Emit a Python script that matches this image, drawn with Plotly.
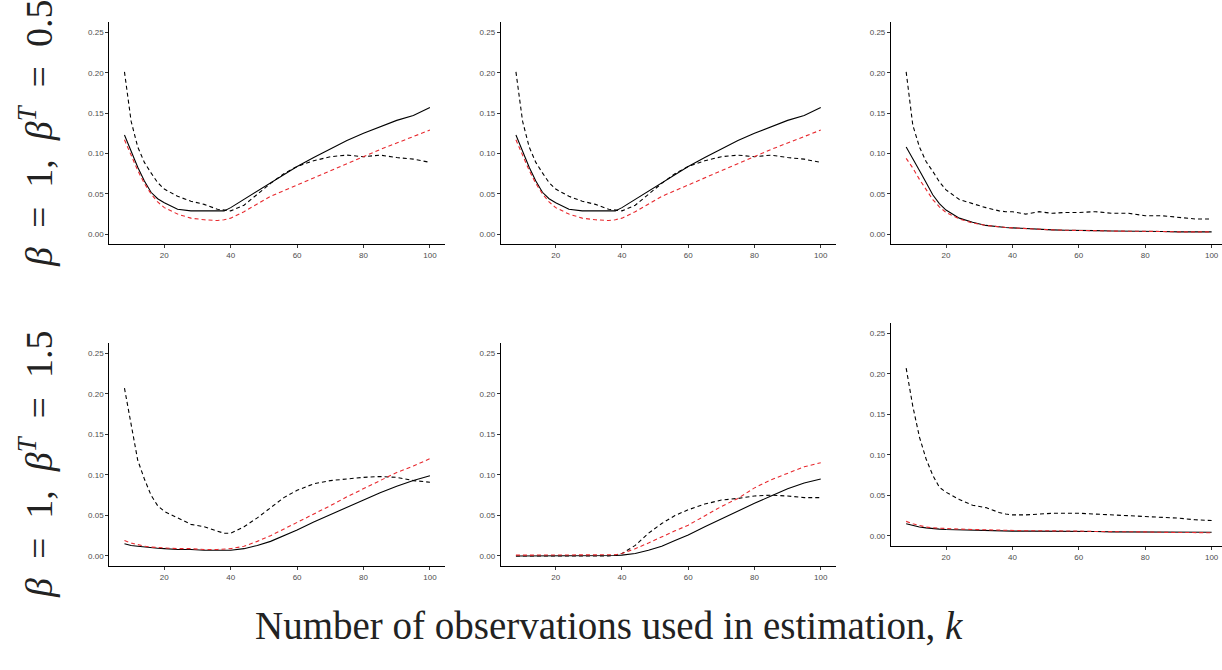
import plotly.graph_objects as go

W, H = 1222, 670

K = [8, 10, 12, 14, 16, 18, 20, 24, 28, 32, 36, 38, 40, 44, 48, 52, 56, 60, 65, 70, 75, 80, 85, 90, 95, 100]

# Row 1 (beta^T = 0.5), columns 1 and 2 (identical)
r1c1_solid = [0.123, 0.102, 0.083, 0.066, 0.052, 0.044, 0.039, 0.031, 0.029, 0.029, 0.029, 0.029, 0.033,
              0.043, 0.053, 0.063, 0.074, 0.084, 0.095, 0.106, 0.116, 0.125, 0.133, 0.141, 0.147, 0.157]
r1c1_dash = [0.201, 0.140, 0.108, 0.089, 0.076, 0.064, 0.056, 0.047, 0.041, 0.037, 0.031, 0.030, 0.029,
             0.036, 0.050, 0.063, 0.075, 0.084, 0.091, 0.096, 0.098, 0.096, 0.098, 0.095, 0.093, 0.089]
r1c1_red = [0.117, 0.098, 0.079, 0.063, 0.050, 0.040, 0.033, 0.025, 0.020, 0.018, 0.017, 0.018, 0.020,
            0.028, 0.038, 0.047, 0.054, 0.061, 0.070, 0.079, 0.088, 0.097, 0.105, 0.113, 0.121, 0.129]

r1c2_solid = list(r1c1_solid)
r1c2_dash = list(r1c1_dash)
r1c2_red = list(r1c1_red)

# Row 1, column 3
r1c3_solid = [0.108, 0.094, 0.079, 0.064, 0.049, 0.038, 0.030, 0.020, 0.015, 0.011, 0.009, 0.0085, 0.008,
              0.007, 0.006, 0.0055, 0.005, 0.005, 0.0045, 0.004, 0.004, 0.0035, 0.0035, 0.003, 0.003, 0.003]
r1c3_dash = [0.201, 0.135, 0.108, 0.090, 0.078, 0.065, 0.055, 0.043, 0.038, 0.033, 0.029, 0.028, 0.028,
             0.025, 0.028, 0.026, 0.027, 0.027, 0.028, 0.026, 0.026, 0.023, 0.023, 0.021, 0.019, 0.019]
r1c3_red = [0.094, 0.082, 0.068, 0.055, 0.043, 0.034, 0.027, 0.019, 0.014, 0.011, 0.009, 0.0085, 0.008,
            0.007, 0.006, 0.0055, 0.005, 0.005, 0.0045, 0.004, 0.004, 0.0035, 0.0035, 0.003, 0.003, 0.003]

# Row 2 (beta^T = 1.5), column 1
r2c1_solid = [0.015, 0.013, 0.012, 0.011, 0.010, 0.0095, 0.009, 0.008, 0.008, 0.007, 0.007, 0.007, 0.007,
              0.009, 0.013, 0.018, 0.025, 0.032, 0.042, 0.051, 0.060, 0.069, 0.078, 0.086, 0.093, 0.099]
r2c1_dash = [0.207, 0.160, 0.118, 0.095, 0.075, 0.062, 0.055, 0.047, 0.039, 0.036, 0.031, 0.028, 0.028,
             0.036, 0.047, 0.060, 0.072, 0.081, 0.089, 0.093, 0.095, 0.097, 0.098, 0.097, 0.093, 0.091]
r2c1_red = [0.019, 0.016, 0.014, 0.012, 0.011, 0.0105, 0.010, 0.009, 0.009, 0.008, 0.008, 0.0085, 0.009,
            0.012, 0.018, 0.025, 0.033, 0.041, 0.051, 0.062, 0.073, 0.083, 0.094, 0.103, 0.111, 0.120]

# Row 2, column 2
r2c2_solid = [0.0, 0.0, 0.0, 0.0, 0.0, 0.0, 0.0, 0.0, 0.0, 0.0, 0.0, 0.0005, 0.001,
              0.003, 0.007, 0.012, 0.019, 0.026, 0.036, 0.046, 0.056, 0.065, 0.074, 0.083, 0.090, 0.095]
r2c2_dash = [0.0, 0.0, 0.0, 0.0, 0.0, 0.0, 0.0, 0.0, 0.0, 0.0, 0.0, 0.001, 0.003,
             0.013, 0.028, 0.040, 0.050, 0.057, 0.064, 0.069, 0.071, 0.074, 0.075, 0.074, 0.072, 0.072]
r2c2_red = [0.001, 0.001, 0.001, 0.001, 0.001, 0.001, 0.001, 0.001, 0.001, 0.001, 0.001, 0.0015, 0.003,
            0.009, 0.016, 0.024, 0.031, 0.038, 0.050, 0.061, 0.071, 0.084, 0.094, 0.102, 0.110, 0.115]

# Row 2, column 3
r2c3_solid = [0.015, 0.013, 0.011, 0.010, 0.009, 0.0085, 0.008, 0.0075, 0.007, 0.007, 0.0065, 0.0065, 0.006,
              0.006, 0.006, 0.006, 0.006, 0.0055, 0.0055, 0.005, 0.005, 0.005, 0.0045, 0.0045, 0.0045, 0.0045]
r2c3_dash = [0.207, 0.160, 0.122, 0.095, 0.075, 0.060, 0.054, 0.045, 0.038, 0.035, 0.029, 0.027, 0.026,
             0.026, 0.027, 0.028, 0.028, 0.028, 0.027, 0.026, 0.025, 0.024, 0.023, 0.022, 0.020, 0.019]
r2c3_red = [0.018, 0.015, 0.013, 0.011, 0.010, 0.0095, 0.009, 0.0085, 0.008, 0.0075, 0.007, 0.007, 0.007,
            0.0065, 0.0065, 0.0065, 0.006, 0.006, 0.0055, 0.0055, 0.005, 0.005, 0.0045, 0.0045, 0.004, 0.004]

X_TICKS = [20, 40, 60, 80, 100]
Y_TICKS = [0.00, 0.05, 0.10, 0.15, 0.20, 0.25]
SP = "\u00a0"
ROW_LABELS = [f"<i>β</i>{SP}{SP}={SP}{SP}1,{SP}{SP}<i>β</i><sup><i>T</i></sup>{SP}{SP}={SP}{SP}0.5",
              f"<i>β</i>{SP}{SP}={SP}{SP}1,{SP}{SP}<i>β</i><sup><i>T</i></sup>{SP}{SP}={SP}{SP}1.5"]
X_TITLE = "Number of observations used in estimation, <i>k</i>"

panels = [
    (r1c1_solid, r1c1_dash, r1c1_red),
    (r1c2_solid, r1c2_dash, r1c2_red),
    (r1c3_solid, r1c3_dash, r1c3_red),
    (r2c1_solid, r2c1_dash, r2c1_red),
    (r2c2_solid, r2c2_dash, r2c2_red),
    (r2c3_solid, r2c3_dash, r2c3_red),
]

# pixel boxes: (left, right, top, bottom)
boxes = [
    (109.2, 445.2, 22.2, 244.4),
    (500.7, 836.0, 22.2, 244.4),
    (890.9, 1222.0, 22.2, 244.4),
    (109.2, 445.2, 343.2, 566.1),
    (500.7, 836.0, 343.2, 566.1),
    (890.9, 1222.0, 323.2, 546.1),
]

fig = go.Figure()
RED = "#e8292e"
for i, ((solid, dash, red), (l, r, t, b)) in enumerate(zip(panels, boxes)):
    n = "" if i == 0 else str(i + 1)
    xa, ya = "x" + n, "y" + n
    fig.add_trace(go.Scatter(x=K, y=solid, mode="lines", xaxis=xa, yaxis=ya,
                             line=dict(color="black", width=1.1), showlegend=False))
    fig.add_trace(go.Scatter(x=K, y=dash, mode="lines", xaxis=xa, yaxis=ya,
                             line=dict(color="black", width=1.1, dash="4px,3px"), showlegend=False))
    fig.add_trace(go.Scatter(x=K, y=red, mode="lines", xaxis=xa, yaxis=ya,
                             line=dict(color=RED, width=1.1, dash="4px,3px"), showlegend=False))
    xr_end = 104.6 if r < W else 3.4 + (r - l) / ((336.0) / 101.2)
    axcommon = dict(showgrid=False, zeroline=False, showline=True, linecolor="black", linewidth=1,
                    ticks="outside", ticklen=3, tickcolor="#333333", tickwidth=1, automargin=False,
                    tickfont=dict(family="Liberation Sans", size=8, color="#4d4d4d"))
    fig.update_layout(**{
        ("xaxis" + n): dict(domain=[l / W, r / W], range=[3.4, xr_end], tickvals=X_TICKS,
                            anchor=ya, **axcommon),
        ("yaxis" + n): dict(domain=[1 - b / H, 1 - t / H], range=[-0.0125, 0.2625], tickvals=Y_TICKS,
                            tickformat=".2f", anchor=xa, **axcommon),
    })

annotations = [
    dict(text=ROW_LABELS[0], x=36 / W, y=1 - 133 / H, xref="paper", yref="paper", textangle=-90,
         showarrow=False, xanchor="center", yanchor="middle",
         font=dict(family="Liberation Serif", size=38, color="#222222")),
    dict(text=ROW_LABELS[1], x=36 / W, y=1 - 464 / H, xref="paper", yref="paper", textangle=-90,
         showarrow=False, xanchor="center", yanchor="middle",
         font=dict(family="Liberation Serif", size=38, color="#222222")),
    dict(text=X_TITLE, x=609 / W, y=1 - 625 / H, xref="paper", yref="paper",
         showarrow=False, xanchor="center", yanchor="middle",
         font=dict(family="Liberation Serif", size=39, color="#222222")),
]

fig.update_layout(width=W, height=H, margin=dict(l=0, r=0, t=0, b=0),
                  paper_bgcolor="white", plot_bgcolor="white", annotations=annotations)

fig.write_html("out.html", config={"displayModeBar": False, "staticPlot": True},
               post_script="document.body.style.margin='0px';document.body.style.overflow='hidden';")
